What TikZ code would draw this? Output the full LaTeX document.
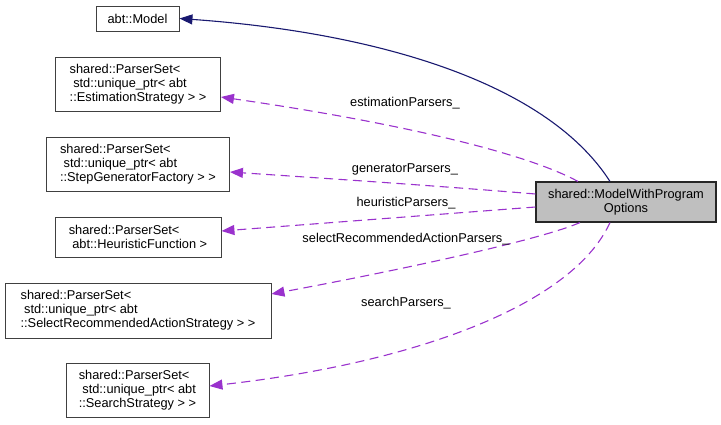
\documentclass[tikz,border=0pt]{standalone}
\usepackage{fontspec}
\setmainfont{Liberation Sans}
\usetikzlibrary{arrows.meta,calc}
\definecolor{navyedge}{HTML}{191970}
\definecolor{orchid}{HTML}{9A32CD}
\definecolor{boxgray}{HTML}{BFBFBF}
\begin{document}
\begin{tikzpicture}[x=1pt,y=-1pt,
  every node/.style={font=\fontsize{12.8}{14}\selectfont, inner sep=0pt},
  cls/.style={draw=black!75, line width=0.9pt, fill=white, align=left},
  mainbox/.style={draw=black!85, line width=1.1pt, fill=boxgray, align=center},
  inherit/.style={draw=navyedge, line width=1.1pt, -{Triangle[length=13pt,width=10pt]}},
  usage/.style={draw=orchid, line width=1.1pt, dash pattern=on 9pt off 5.5pt, -{Triangle[length=13pt,width=10pt]}},
  lbl/.style={text=black}]
\useasboundingbox (0,0) rectangle (721,424);
\node[cls, minimum width=83pt, minimum height=25pt] (model) at (137.5,18.5) {abt::Model};
\node[cls, minimum width=165pt, minimum height=54pt] (est) at (138,84) {shared::ParserSet<\\\ std::unique\_ptr< abt\\::EstimationStrategy > >};
\node[cls, minimum width=183pt, minimum height=54pt] (gen) at (138,164) {shared::ParserSet<\\\ std::unique\_ptr< abt\\::StepGeneratorFactory > >};
\node[cls, minimum width=166pt, minimum height=40pt] (heu) at (138,237) {shared::ParserSet<\\\ abt::HeuristicFunction >};
\node[cls, minimum width=266pt, minimum height=55pt] (sel) at (138,310.5) {shared::ParserSet<\\\ std::unique\_ptr< abt\\::SelectRecommendedActionStrategy > >};
\node[cls, minimum width=143pt, minimum height=54pt] (sea) at (137.5,390) {shared::ParserSet<\\\ std::unique\_ptr< abt\\::SearchStrategy > >};
\node[mainbox, minimum width=180pt, minimum height=40pt] (main) at (626,202) {shared::ModelWithProgram\\Options};

\draw[inherit] ($(main.north)+(-16,0)$) .. controls (545,80) and (370,32) .. (model.east);
\draw[usage] ($(main.north)+(-48,0)$) .. controls (520,150) and (380,120) .. ($(est.east)+(0,13)$);
\draw[usage] ($(main.west)+(0,-8)$) .. controls (440,186) and (320,178) .. ($(gen.east)+(0,8)$);
\draw[usage] ($(main.west)+(0,5)$) -- ($(heu.east)+(0,-6)$);
\draw[usage] ($(main.south)+(-46,0)$) .. controls (540,240) and (400,270) .. ($(sel.east)+(0,-16.5)$);
\draw[usage] ($(main.south)+(-16,0)$) .. controls (570,310) and (400,365) .. ($(sea.east)+(0,-4)$);

\node[lbl] (l1) at (405,103) {estimationParsers\_};
\node[lbl] (l2) at (405,169) {generatorParsers\_};
\node[lbl] (l3) at (406,203) {heuristicParsers\_};
\node[lbl] (l4) at (406,239) {selectRecommendedActionParsers\_};
\node[lbl] (l5) at (406,303) {searchParsers\_};
\end{tikzpicture}
\end{document}
